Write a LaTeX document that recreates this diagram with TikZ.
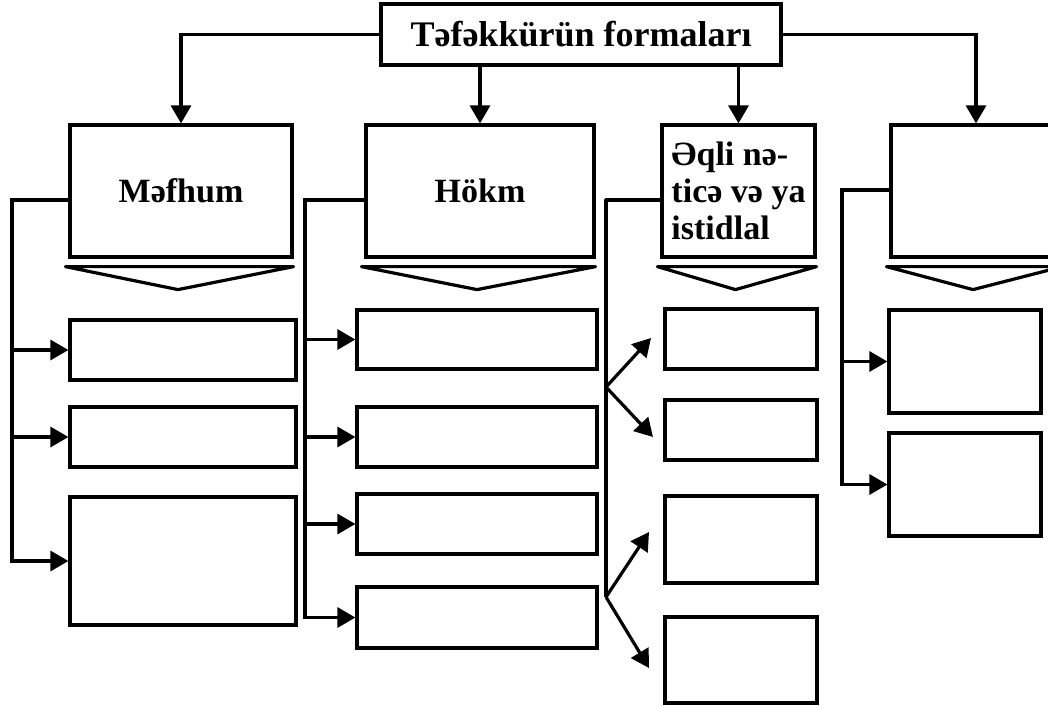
\documentclass[tikz,border=0pt]{standalone}
\usepackage{fontspec}
\setmainfont{Liberation Serif}
\usetikzlibrary{arrows.meta, calc}

\begin{document}
\begin{tikzpicture}[x=1pt, y=-1pt, line width=3.2pt,
  box/.style={draw, inner sep=0pt, font=\fontsize{34}{37}\selectfont\bfseries},
  arr/.style={-{Triangle[length=18pt,width=20pt]}}]
  \useasboundingbox (0,0) rectangle (1048,705);

  % title
  \node[box, minimum width=400pt, minimum height=61pt,
        font=\fontsize{36}{40}\selectfont\bfseries] (title) at (581,34.5) {Təfəkkürün formaları};

  % forms
  \node[box, minimum width=222pt, minimum height=132pt] (M) at (181,191) {Məfhum};
  \node[box, minimum width=228pt, minimum height=132pt] (H) at (480,191) {Hökm};
  \node[box, minimum width=153pt, minimum height=132pt, align=left] (Q) at (738.5,191)
       {Əqli nə-\\ticə və ya\\istidlal};
  \node[box, minimum width=170pt, minimum height=132pt] (R) at (976,191) {};

  % title arrows
  \draw[arr] (title.west) -| (M.north);
  \draw[arr] (title.south -| H.north) -- (H.north);
  \draw[arr] (title.south -| Q.north) -- (Q.north);
  \draw[arr] (title.east) -| (R.north);

  % wedges under the forms
  \foreach \b in {M,H,Q,R}
    \draw[line join=round] ($(\b.south west)+(-3,8)$) -- ($(\b.south east)+(0,8)$)
      -- ($(\b.south)+(-3,31)$) -- cycle;

  % empty boxes
  \node[box, minimum width=226pt, minimum height=60pt] (m1) at (183,350) {};
  \node[box, minimum width=226pt, minimum height=60pt] (m2) at (183,437) {};
  \node[box, minimum width=226pt, minimum height=128pt] (m3) at (183,561) {};

  \node[box, minimum width=240pt, minimum height=59pt] (h1) at (477,339.5) {};
  \node[box, minimum width=240pt, minimum height=60pt] (h2) at (477,437) {};
  \node[box, minimum width=240pt, minimum height=60pt] (h3) at (477,524) {};
  \node[box, minimum width=240pt, minimum height=61pt] (h4) at (477,617.5) {};

  \node[box, minimum width=152pt, minimum height=60pt] (q1) at (741,339) {};
  \node[box, minimum width=152pt, minimum height=60pt] (q2) at (741,430) {};
  \node[box, minimum width=152pt, minimum height=87pt] (q3) at (741,539.5) {};
  \node[box, minimum width=152pt, minimum height=86pt] (q4) at (741,660) {};

  \node[box, minimum width=152pt, minimum height=103pt] (r1) at (965,361.5) {};
  \node[box, minimum width=152pt, minimum height=103pt] (r2) at (965,484.5) {};

  % Mefhum
  \coordinate (mbus) at (12,200);
  \draw[arr] (M.west |- mbus) -- (mbus) -- (mbus |- m3.west) -- (m3.west);
  \foreach \n in {m1,m2}
    \draw[arr] (mbus |- \n.west) -- (\n.west);

  % Hokm
  \coordinate (hbus) at (305,200);
  \draw[arr] (H.west |- hbus) -- (hbus) -- (hbus |- h4.west) -- (h4.west);
  \foreach \n in {h1,h2,h3}
    \draw[arr] (hbus |- \n.west) -- (\n.west);

  % Eqli netice
  \coordinate (qbus) at (606,200);
  \coordinate (qf1) at (606,387);
  \coordinate (qf2) at (606,597);
  \coordinate (qt1) at (651,338);
  \coordinate (qt2) at (653,437);
  \coordinate (qt3) at (649,532);
  \coordinate (qt4) at (649,668);
  \draw[line join=round] (Q.west |- qbus) -- (qbus) -- (qf2);
  \draw[arr] (qf1) -- (qt1);
  \draw[arr] (qf1) -- (qt2);
  \draw[arr] (qf2) -- (qt3);
  \draw[arr] (qf2) -- (qt4);

  % right one
  \coordinate (rbus) at (842,190);
  \draw[arr] (R.west |- rbus) -- (rbus) -- (rbus |- r2.west) -- (r2.west);
  \draw[arr] (rbus |- r1.west) -- (r1.west);
\end{tikzpicture}
\end{document}
